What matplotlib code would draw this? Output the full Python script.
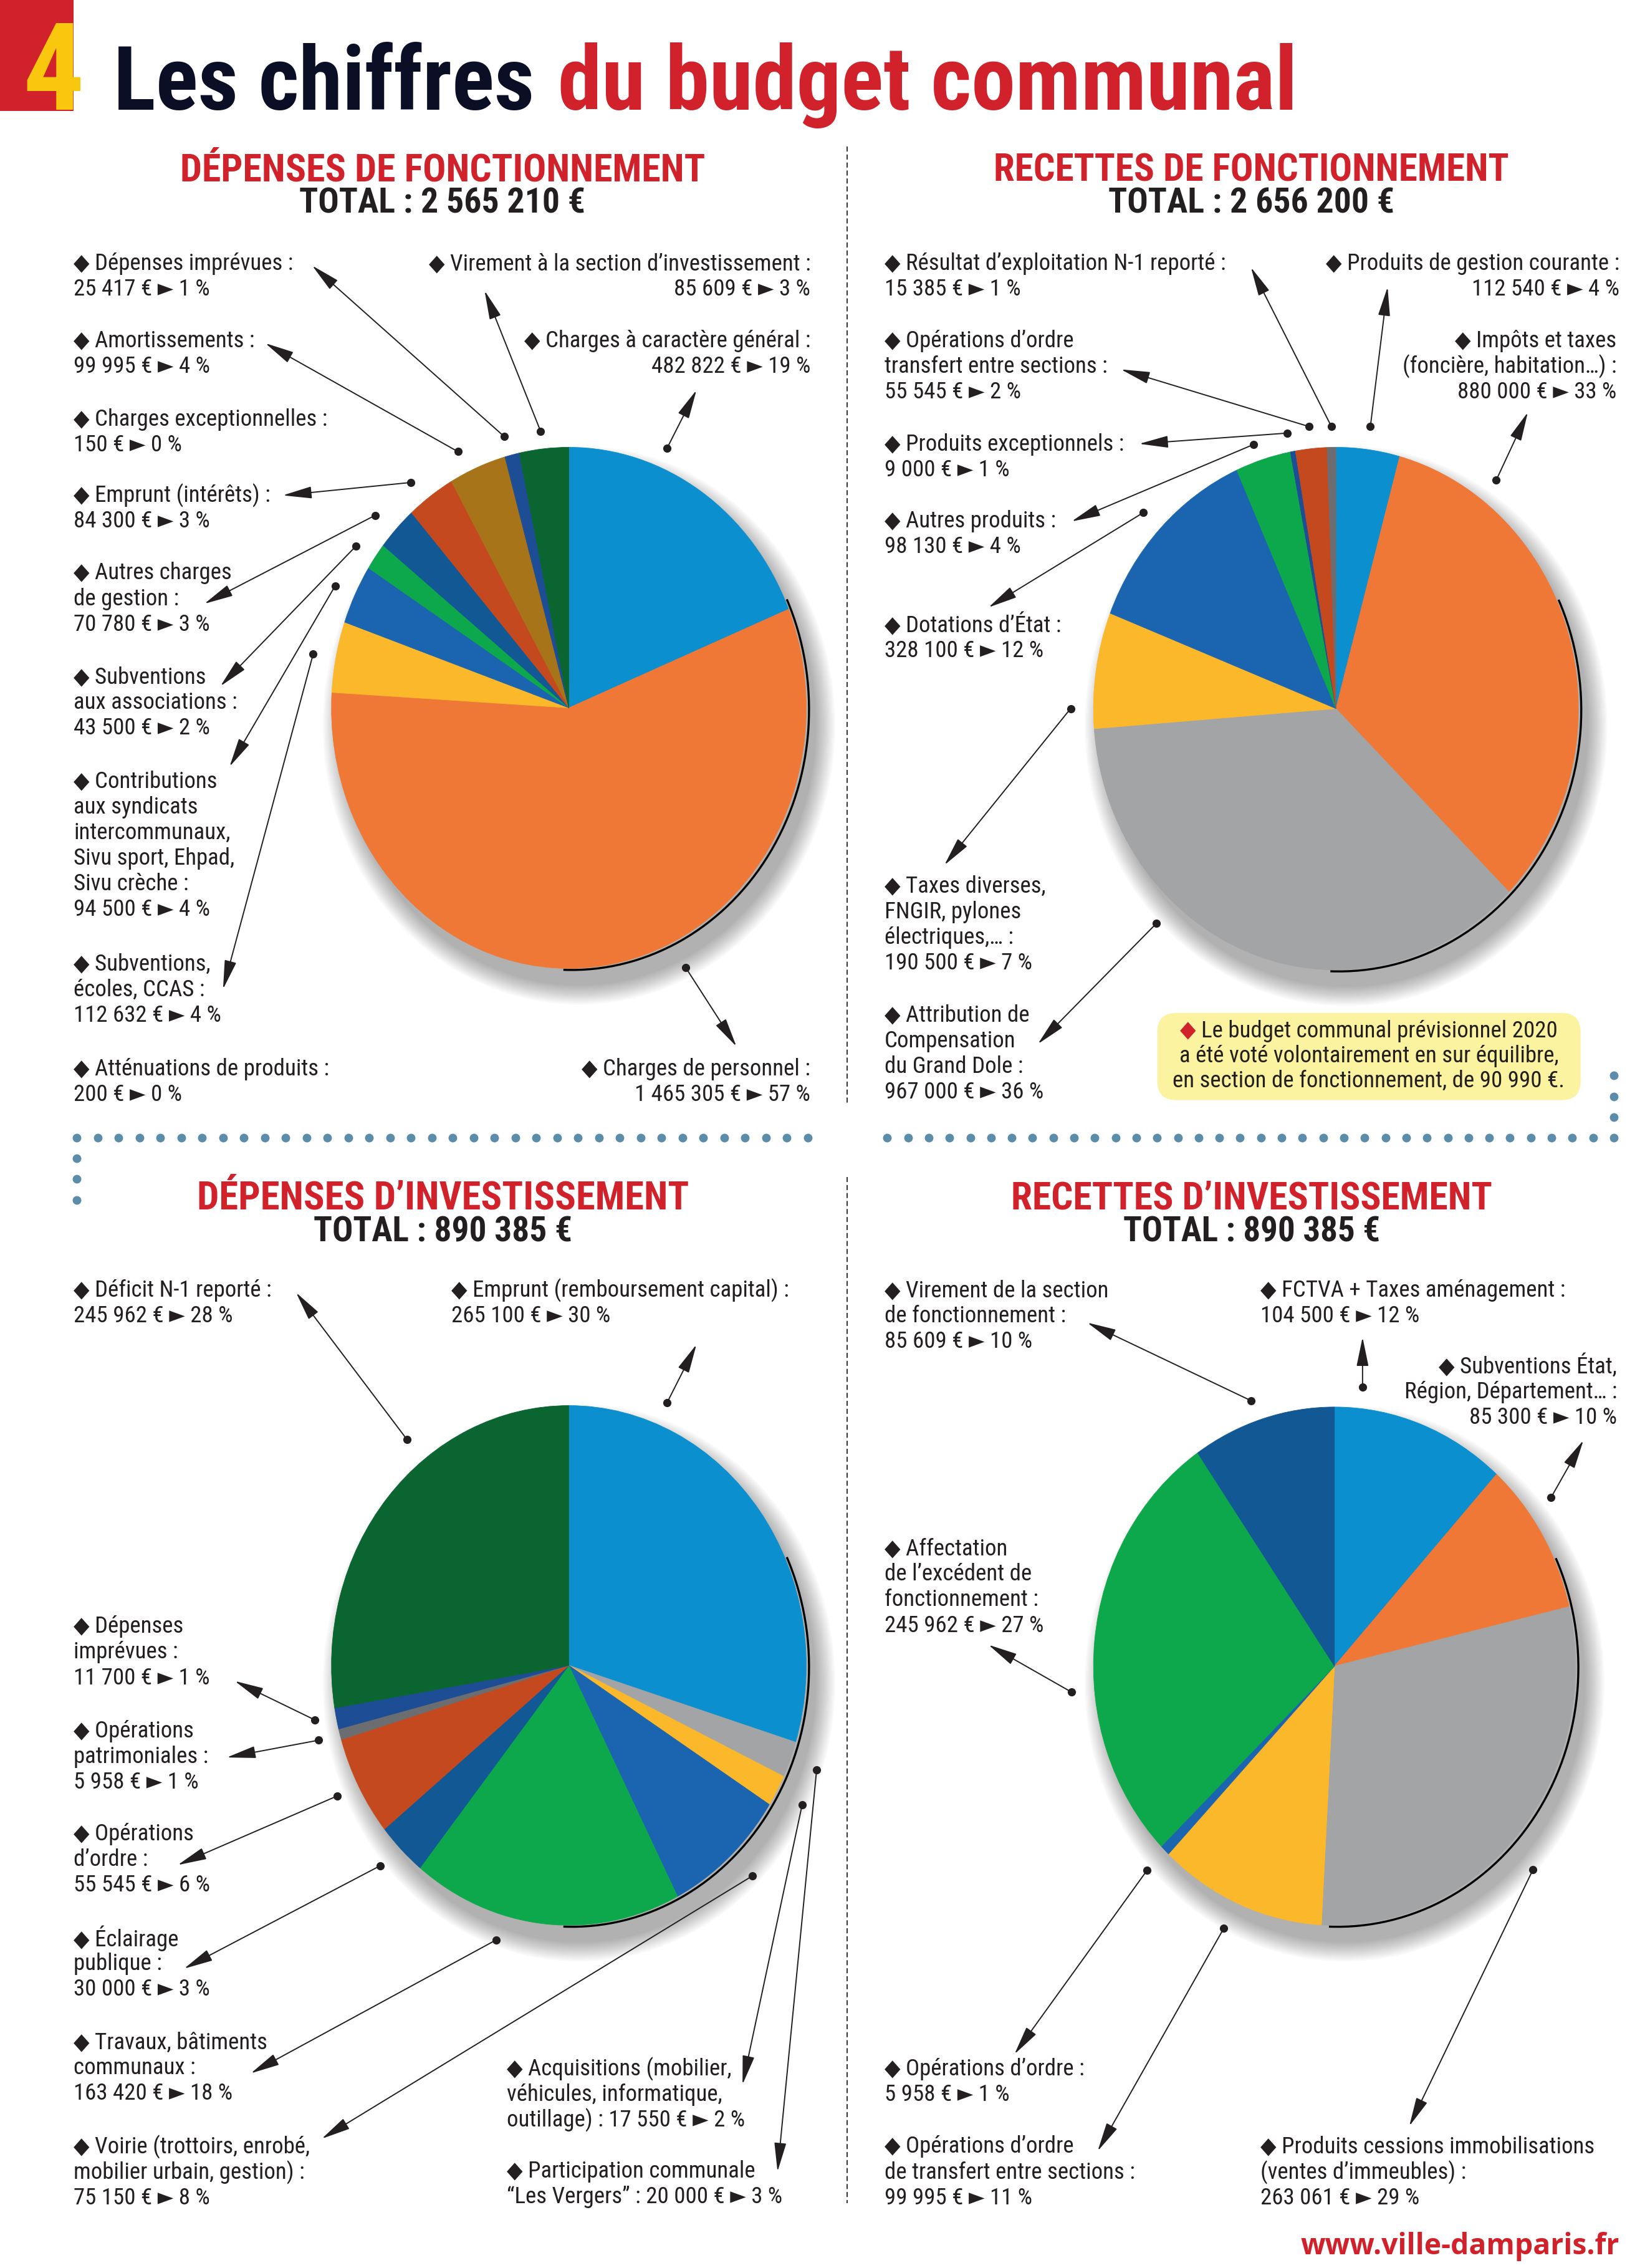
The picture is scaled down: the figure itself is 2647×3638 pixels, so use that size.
import numpy as np
import matplotlib
matplotlib.use("Agg")
import matplotlib.pyplot as plt
from matplotlib import font_manager as fm
from matplotlib.patches import Rectangle, Ellipse, Arc, FancyBboxPatch

# ------------------------------------------------------------------ data
# each pie is listed clockwise from 12 o'clock, as on the page
dep_fonc_labels = [
    "Charges à caractère général :",
    "Charges de personnel :",
    "Subventions,\nécoles, CCAS :",
    "Contributions\naux syndicats\nintercommunaux,\nSivu sport, Ehpad,\nSivu crèche :",
    "Subventions\naux associations :",
    "Autres charges\nde gestion :",
    "Emprunt (intérêts) :",
    "Charges exceptionnelles :",
    "Amortissements :",
    "Dépenses imprévues :",
    "Virement à la section d’investissement :",
    "Atténuations de produits :",
]
dep_fonc_values = [482822, 1465305, 112632, 94500, 43500, 70780, 84300, 150, 99995, 25417, 85609, 200]
dep_fonc_pct = [19, 57, 4, 4, 2, 3, 3, 0, 4, 1, 3, 0]

rec_fonc_labels = [
    "Produits de gestion courante :",
    "Impôts et taxes\n(foncière, habitation…) :",
    "Attribution de\nCompensation\ndu Grand Dole :",
    "Taxes diverses,\nFNGIR, pylones\nélectriques,… :",
    "Dotations d’État :",
    "Autres produits :",
    "Produits exceptionnels :",
    "Opérations d’ordre\ntransfert entre sections :",
    "Résultat d’exploitation N-1 reporté :",
]
rec_fonc_values = [112540, 880000, 967000, 190500, 328100, 98130, 9000, 55545, 15385]
rec_fonc_pct = [4, 33, 36, 7, 12, 4, 1, 2, 1]

dep_inv_labels = [
    "Emprunt (remboursement capital) :",
    "Participation communale\n“Les Vergers” : {v}",
    "Acquisitions (mobilier,\nvéhicules, informatique,\noutillage) : {v}",
    "Voirie (trottoirs, enrobé,\nmobilier urbain, gestion) :",
    "Travaux, bâtiments\ncommunaux :",
    "Éclairage\npublique :",
    "Opérations\nd’ordre :",
    "Opérations\npatrimoniales :",
    "Dépenses\nimprévues :",
    "Déficit N-1 reporté :",
]
dep_inv_values = [265100, 20000, 17550, 75150, 163420, 30000, 55545, 5958, 11700, 245962]
dep_inv_pct = [30, 3, 2, 8, 18, 3, 6, 1, 1, 28]

rec_inv_labels = [
    "FCTVA + Taxes aménagement :",
    "Subventions État,\nRégion, Département… :",
    "Produits cessions immobilisations\n(ventes d’immeubles) :",
    "Opérations d’ordre\nde transfert entre sections :",
    "Opérations d’ordre :",
    "Affectation\nde l’excédent de\nfonctionnement :",
    "Virement de la section\nde fonctionnement :",
]
rec_inv_values = [104500, 85300, 263061, 99995, 5958, 245962, 85609]
rec_inv_pct = [12, 10, 29, 11, 1, 27, 10]

section_titles = ["DÉPENSES DE FONCTIONNEMENT", "RECETTES DE FONCTIONNEMENT",
                  "DÉPENSES D’INVESTISSEMENT", "RECETTES D’INVESTISSEMENT"]
note_lines = ["Le budget communal prévisionnel 2020",
              "a été voté volontairement en sur équilibre,",
              "en section de fonctionnement, de 90 990 €."]

# ------------------------------------------------------------------ style
RED = "#d1222b"
TITLE_NAVY = "#0b0f26"
INK = "#231f20"
DOTC = "#5b8dab"
BLUE, ORANGE, YELLOW = "#0b8fcf", "#ef7836", "#fbb82b"
BLUE2, GREEN, DKBLUE = "#1b65b0", "#0ea84c", "#115894"
RUST, GOLD, NAVY = "#c5491e", "#a8741a", "#1d4d95"
DKGREEN, GRAY, DKGRAY = "#0a6531", "#a3a4a6", "#6c6d70"

dep_fonc_colors = [BLUE, ORANGE, YELLOW, BLUE2, GREEN, DKBLUE, RUST, RUST, GOLD, NAVY, DKGREEN, DKGREEN]
rec_fonc_colors = [BLUE, ORANGE, GRAY, YELLOW, BLUE2, GREEN, NAVY, RUST, DKGRAY]
dep_inv_colors = [BLUE, GRAY, YELLOW, BLUE2, GREEN, DKBLUE, RUST, DKGRAY, NAVY, DKGREEN]
rec_inv_colors = [BLUE, ORANGE, GRAY, YELLOW, BLUE2, GREEN, DKBLUE]

names = {f.name for f in fm.fontManager.ttflist}


def pick(cands):
    for c in cands:
        if c in names:
            return [c, "DejaVu Sans"]
    return ["DejaVu Sans"]


NARROW = pick(["Liberation Sans Narrow", "Roboto Condensed", "Open Sans Condensed"])
WEB = pick(["Open Sans", "Liberation Sans"])

# ------------------------------------------------------------------ layout (page units, 1 unit = 2647/1140 px)
# pie: centre x, centre y, half width, half height
pie_boxes = [(393, 489, 164, 180), (923, 489.5, 167.5, 180.5),
             (393, 1150.5, 164, 179.5), (922, 1151, 166.5, 179)]
# heading: centre x, title baseline, title width, total baseline, total width
head_layout = [(305.7, 125.2, 301.7, 147.1, 197.8), (864.4, 125.2, 296.7, 147.1, 197.8),
               (305.9, 835.5, 282.1, 857.7, 178.8), (865.0, 835.5, 276.4, 857.7, 177.7)]
# label: x, first line y, alignment, arrow tail (dot), arrow head
dep_fonc_layout = [
    (560, 235.4, "right", (460.9, 309.6), (481.2, 269.5)),
    (560, 738.5, "right", (473.8, 668.5), (508.8, 722.9)),
    (51, 666.0, "left", (216.4, 451.7), (154.1, 683.3)),
    (51, 540.0, "left", (231.6, 404.7), (158.6, 529.6)),
    (51, 467.8, "left", (245.9, 377.3), (152.3, 474.0)),
    (51, 396.0, "left", (259.2, 356.0), (141.2, 417.1)),
    (51, 342.2, "left", (283.9, 333.3), (195.4, 342.2)),
    (51, 289.8, "left", None, None),
    (51, 235.4, "left", (316.4, 312.0), (183.3, 237.1)),
    (51, 182.2, "left", (348.4, 301.6), (215.7, 183.5)),
    (560, 182.2, "right", (373.5, 297.9), (334.8, 200.8)),
    (51, 738.5, "left", None, None),
]
rec_fonc_layout = [
    (1119, 182.2, "right", (946.8, 294.7), (958.7, 198.3)),
    (1117, 235.4, "right", (1033.7, 331.8), (1055.6, 284.8)),
    (611, 701.5, "left", (798.9, 638.0), (717.1, 721.2)),
    (611, 612.5, "left", (739.7, 489.5), (652.5, 597.6)),
    (611, 432.0, "left", (790.0, 354.1), (683.0, 419.6)),
    (611, 360.2, "left", (866.0, 307.1), (740.4, 360.2)),
    (611, 307.0, "left", (889.4, 299.2), (787.1, 306.6)),
    (611, 235.4, "left", (904.5, 294.7), (774.5, 255.2)),
    (611, 182.2, "left", (919.9, 294.7), (864.3, 184.7)),
]
dep_inv_layout = [
    (311.6, 891.5, "left", (460.9, 969.0), (481.2, 928.8)),
    (350.3, 1500.2, "left", (564.2, 1222.8), (537.2, 1500.2)),
    (350.3, 1429.3, "left", (554.2, 1246.8), (513.0, 1440.0)),
    (51, 1483.0, "left", (519.9, 1295.9), (222.3, 1477.5)),
    (51, 1411.0, "left", (342.9, 1340.1), (173.3, 1432.3)),
    (51, 1339.1, "left", (262.9, 1288.8), (127.2, 1360.0)),
    (51, 1267.1, "left", (233.0, 1240.7), (122.8, 1288.4)),
    (51, 1195.9, "left", (220.1, 1202.2), (156.7, 1214.1)),
    (51, 1123.8, "left", (217.6, 1188.2), (162.2, 1161.3)),
    (51, 891.5, "left", (281.3, 994.6), (204.6, 893.0)),
]
rec_inv_layout = [
    (870.7, 891.5, "left", (941.4, 958.2), (941.4, 923.8)),
    (1117.3, 943.9, "right", (1071.7, 1034.4), (1094.0, 995.0)),
    (870.7, 1483.0, "left", (1059.2, 1291.5), (973.7, 1468.8)),
    (611, 1483.0, "left", (845.6, 1332.0), (758.4, 1486.0)),
    (611, 1429.3, "left", (792.5, 1292.1), (700.9, 1419.1)),
    (611, 1069.9, "left", (740.4, 1169.0), (683.0, 1136.3)),
    (611, 891.5, "left", (864.3, 967.6), (751.2, 913.7)),
]
PITCH = 17.7

# ------------------------------------------------------------------ page
U = 2647 / 1140
W, H = 1140, 3638 / U
PT = U * 72 / 100

fig = plt.figure(figsize=(26.47, 36.38), dpi=100, facecolor="white")
ax = fig.add_axes([0, 0, 1, 1])
ax.set_xlim(0, W)
ax.set_ylim(H, 0)
ax.axis("off")
rend = fig.canvas.get_renderer()


def fit(t, width):
    w = t.get_window_extent(rend).width / U
    t.set_fontsize(t.get_fontsize() * width / w)
    return t


def eur(v):
    return f"{v:,}".replace(",", " ") + " €"


probe = ax.text(0, 0, "◆ Virement à la section d’investissement :", fontsize=20,
                fontfamily=NARROW, fontstretch="condensed")
fit(probe, 264)
LFS = min(probe.get_fontsize(), 16.5 * PT)
probe.remove()


def draw_pie(box, values, colors):
    cx, cy, rx, ry = box
    # soft drop shadow
    for i in range(14):
        g = 2.0 * i
        ax.add_patch(Ellipse((cx + 7, cy + 12), 2 * rx + g, 2 * ry + g,
                             fc="black", ec="none", alpha=0.024, zorder=0))
    pa = fig.add_axes([(cx - rx) / W, 1 - (cy + ry) / H, 2 * rx / W, 2 * ry / H])
    wedges, _ = pa.pie(values, colors=colors, startangle=90, counterclock=False, radius=1)
    for w in wedges:
        w.set_edgecolor(w.get_facecolor())
        w.set_linewidth(0.6)
    pa.add_patch(Arc((0.012, -0.006), 2, 2, theta1=-92, theta2=25,
                     color="black", lw=2.4, clip_on=False))
    pa.set_xlim(-1, 1)
    pa.set_ylim(-1, 1)
    pa.set_aspect("auto")
    pa.axis("off")


def draw_labels(labels, values, pcts, layout):
    for name, v, p, (x, y, ha, tail, head) in zip(labels, values, pcts, layout):
        if "{v}" not in name:
            name += "\n{v}"
        lines = ("◆ " + name.format(v=f"{eur(v)} ► {p} %")).split("\n")
        for i, line in enumerate(lines):
            ax.text(x, y + i * PITCH, line, ha=ha, va="center", fontsize=LFS, color=INK,
                    fontfamily=NARROW, fontstretch="condensed")
        if tail is not None:
            ax.annotate("", xy=head, xytext=tail,
                        arrowprops=dict(arrowstyle="-|>,head_length=2.9,head_width=0.6",
                                        mutation_scale=10, lw=1.4, color=INK,
                                        shrinkA=0, shrinkB=0))
            ax.plot(*tail, "o", color=INK, ms=9.5, mec="none")


# title
ax.add_patch(Rectangle((0, 0), 50.9, 76.8, fc=RED, ec="none"))
four = ax.text(58, 76, "4", ha="right", va="baseline", color="#f9c80e", fontsize=84 * PT,
               fontweight="bold", fontfamily=NARROW, fontstretch="condensed")
four.set_clip_path(Rectangle((0, 0), 50.9, 76.8, transform=ax.transData))
t1 = ax.text(78.5, 75.8, "Les chiffres", color=TITLE_NAVY, fontsize=60, fontweight="heavy",
             fontfamily=NARROW, fontstretch="condensed", va="baseline")
t2 = ax.text(391, 75.8, "du budget communal", color=RED, fontsize=60, fontweight="heavy",
             fontfamily=NARROW, fontstretch="condensed", va="baseline")
fit(t1, 292)
fit(t2, 503)
s = max(t1.get_fontsize(), t2.get_fontsize())
t1.set_fontsize(s)
t2.set_fontsize(s)
gap = t1.get_window_extent(rend).x1 / U + 16
t2.set_x(gap)
over = t2.get_window_extent(rend).x1 / U - 896
if over > 0:
    s2 = s * (896 - 78.5) / (896 - 78.5 + over)
    t1.set_fontsize(s2)
    t2.set_fontsize(s2)
    t2.set_x(t1.get_window_extent(rend).x1 / U + 16)

# headings and totals
all_values = [dep_fonc_values, rec_fonc_values, dep_inv_values, rec_inv_values]
for title, vals, (xc, yb, tw, yb2, tw2) in zip(section_titles, all_values, head_layout):
    t = ax.text(xc, yb, title, ha="center", va="baseline", color=RED, fontsize=40,
                fontweight="bold", fontfamily=NARROW, fontstretch="condensed")
    fit(t, tw * 1.2)
    t = ax.text(xc, yb2, "TOTAL : " + eur(sum(vals)), ha="center", va="baseline", color=INK,
                fontsize=30, fontweight="bold", fontfamily=NARROW, fontstretch="condensed")
    fit(t, tw2)

# separators
dash = (0, (4.5, 2.6))
ax.plot([585.2, 585.2], [101, 762], color=INK, lw=1.3, ls=dash)
ax.plot([585.2, 585.2], [813, 1522], color=INK, lw=1.3, ls=dash)
xs = np.linspace(53, 558, 36)
ax.plot(xs, np.full_like(xs, 786), "o", color=DOTC, ms=10, mec="none")
ax.plot([53] * 3, [800.3, 814.6, 828.9], "o", color=DOTC, ms=10, mec="none")
xs = np.linspace(613, 1115, 36)
ax.plot(xs, np.full_like(xs, 786), "o", color=DOTC, ms=10, mec="none")
ax.plot([1115] * 3, [743.1, 757.4, 771.7], "o", color=DOTC, ms=10, mec="none")

# pies and callouts
draw_pie(pie_boxes[0], dep_fonc_values, dep_fonc_colors)
draw_pie(pie_boxes[1], rec_fonc_values, rec_fonc_colors)
draw_pie(pie_boxes[2], dep_inv_values, dep_inv_colors)
draw_pie(pie_boxes[3], rec_inv_values, rec_inv_colors)
draw_labels(dep_fonc_labels, dep_fonc_values, dep_fonc_pct, dep_fonc_layout)
draw_labels(rec_fonc_labels, rec_fonc_values, rec_fonc_pct, rec_fonc_layout)
draw_labels(dep_inv_labels, dep_inv_values, dep_inv_pct, dep_inv_layout)
draw_labels(rec_inv_labels, rec_inv_values, rec_inv_pct, rec_inv_layout)

# note box
ax.add_patch(FancyBboxPatch((799.6, 699.8), 292.4, 60.2, boxstyle="round,pad=0,rounding_size=13",
                            fc="#fcf3a1", ec="none", zorder=1))
for i, line in enumerate(note_lines):
    y = 712.2 + i * 17.3
    txt = ("◆ " + line) if i == 0 else line
    t = ax.text(945.7, y, txt, ha="center", va="center", fontsize=LFS, color=INK,
                fontfamily=NARROW, fontstretch="condensed", zorder=2)
    if i == 0:
        bb = t.get_window_extent(rend)
        t.set_text(line)
        t.set_ha("right")
        t.set_x(bb.x1 / U)
        ax.text(bb.x0 / U, y, "◆", ha="left", va="center", fontsize=LFS, color=RED,
                fontfamily=NARROW, fontstretch="condensed", zorder=2)

# footer
t = ax.text(1119, 1557.4, "www.ville-damparis.fr", ha="right", va="baseline", color=RED,
            fontsize=30, fontweight="bold", fontfamily=WEB)
fit(t, 220)

fig.savefig("out.png", dpi=100, facecolor="white")
